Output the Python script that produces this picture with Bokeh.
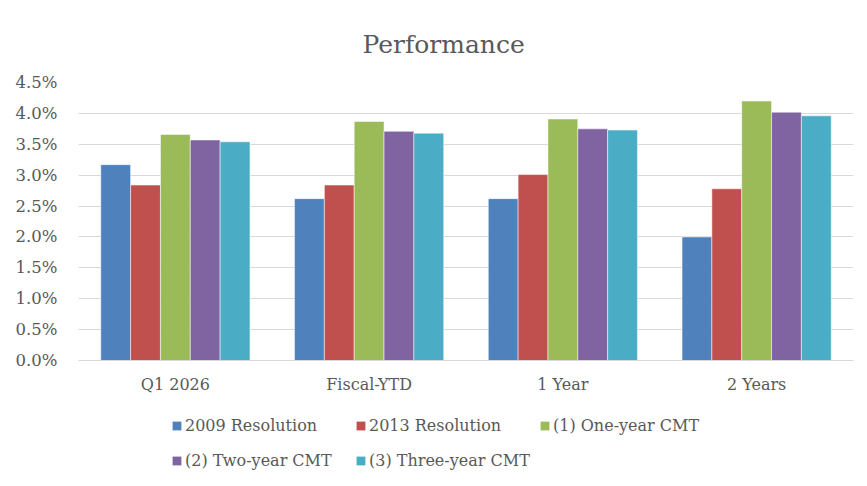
from bokeh.plotting import figure
from bokeh.layouts import column
from bokeh.models import (ColumnDataSource, FactorRange, NumeralTickFormatter, Legend,
                          LegendItem, SingleIntervalTicker, Title)
from bokeh.transform import dodge
from bokeh.embed import file_html
from bokeh.resources import INLINE

categories = ["Q1 2026", "Fiscal-YTD", "1 Year", "2 Years"]
series_names = ["2009 Resolution", "2013 Resolution", "(1) One-year CMT",
                "(2) Two-year CMT", "(3) Three-year CMT"]
res_2009 = [0.0317, 0.0262, 0.0262, 0.0200]
res_2013 = [0.0284, 0.0284, 0.0301, 0.0278]
cmt_one = [0.0366, 0.0387, 0.0391, 0.0420]
cmt_two = [0.0357, 0.0371, 0.0375, 0.0402]
cmt_three = [0.0354, 0.0368, 0.0373, 0.0396]
colors = ["#4F81BD", "#C0504D", "#9BBB59", "#8064A2", "#4BACC6"]

FONT = "DejaVu Serif"
TXT = "#595959"

keys = ["s0", "s1", "s2", "s3", "s4"]
source = ColumnDataSource(dict(cat=categories, s0=res_2009, s1=res_2013, s2=cmt_one,
                               s3=cmt_two, s4=cmt_three))

p = figure(x_range=FactorRange(*categories), y_range=(0, 0.045),
           width=867, height=400, output_backend="svg", toolbar_location=None,
           min_border_left=78, min_border_right=14, min_border_top=82,
           min_border_bottom=40)

bw = 0.154
for i, (k, c) in enumerate(zip(keys, colors)):
    p.vbar(x=dodge("cat", (i - 2) * bw, range=p.x_range), top=k, width=bw,
           source=source, fill_color=c, line_color="white", line_alpha=0.5,
           line_width=1)

p.outline_line_color = None
p.background_fill_color = "white"
p.border_fill_color = "white"

p.xgrid.grid_line_color = None
p.ygrid.grid_line_color = "#D9D9D9"
p.ygrid.grid_line_width = 1

p.yaxis.ticker = SingleIntervalTicker(interval=0.005)
p.yaxis.formatter = NumeralTickFormatter(format="0.0%")
p.yaxis.axis_line_color = None
p.yaxis.major_tick_line_color = None
p.yaxis.minor_tick_line_color = None
p.yaxis.major_tick_out = 0
p.yaxis.major_tick_in = 0
p.yaxis.major_label_standoff = 17
p.yaxis.major_label_text_font = FONT
p.yaxis.major_label_text_font_size = "16.5px"
p.yaxis.major_label_text_color = TXT

p.xaxis.axis_line_color = "#D9D9D9"
p.xaxis.axis_line_width = 1
p.xaxis.major_tick_line_color = None
p.xaxis.minor_tick_line_color = None
p.xaxis.major_tick_out = 0
p.xaxis.major_tick_in = 0
p.xaxis.major_label_standoff = 14
p.xaxis.major_label_text_font = FONT
p.xaxis.major_label_text_font_size = "16px"
p.xaxis.major_label_text_color = TXT

title = Title(text="Performance", align="left", offset=284, standoff=48,
              text_font=FONT, text_font_size="25px", text_font_style="normal",
              text_color=TXT)
p.add_layout(title, "above")

# legend panel below the chart (its frame is aligned with the chart's frame)
lf = figure(width=867, height=86, output_backend="svg", toolbar_location=None,
            x_range=(0, 1), y_range=(0, 1), x_axis_location=None,
            y_axis_location=None, min_border=0, min_border_left=78,
            min_border_right=14, min_border_top=0, min_border_bottom=0)
lf.outline_line_color = None
lf.grid.grid_line_color = None
lf.border_fill_color = "white"
lf.background_fill_color = "white"

swatch = ColumnDataSource(dict(x=[-10], top=[-10]))
items = []
for name, c in zip(series_names, colors):
    r = lf.vbar(x="x", top="top", width=0.1, source=swatch, fill_color=c,
                line_color=None)
    items.append(LegendItem(label=name, renderers=[r]))

leg = Legend(items=items, location=(93, 8), orientation="horizontal", ncols=3,
             padding=0, margin=0, spacing=0, border_line_color=None,
             background_fill_alpha=0, glyph_width=11, glyph_height=11,
             label_height=35, label_width=170, label_standoff=3,
             label_text_font=FONT, label_text_font_size="16px",
             label_text_color=TXT)
lf.add_layout(leg, "center")

layout = column(p, lf, spacing=0)
open("out.html", "w").write(file_html(layout, INLINE))
